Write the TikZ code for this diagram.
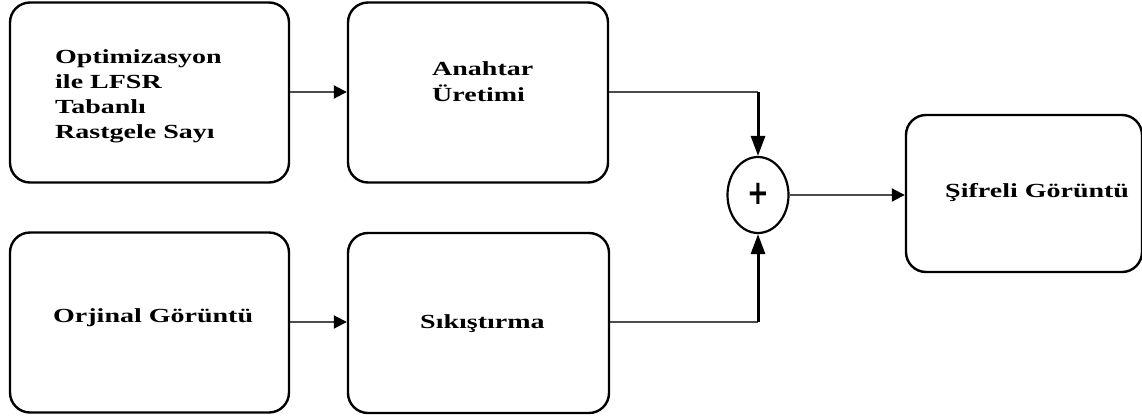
\documentclass[tikz,border=0pt]{standalone}
\usepackage{fontspec}
\setmainfont{Liberation Serif}[FakeStretch=1.4]
\newfontfamily\plusfont{DejaVu Sans}
\usetikzlibrary{arrows.meta,shapes.geometric}
\begin{document}
\begin{tikzpicture}[x=1pt,y=-1pt,
  blockbox/.style={draw=black,line width=2.4pt,rounded corners=20pt,inner sep=0pt},
  lbl/.style={anchor=base west,inner sep=0pt,font=\fontsize{20}{25}\selectfont\bfseries},
  hline/.style={draw=black!70,line width=2pt,-{Triangle[length=13pt,width=13pt,black]}},
  vline/.style={draw=black,line width=3pt,-{Triangle[length=20pt,width=14pt]}}]
\useasboundingbox (0,0) rectangle (1142,418);
\node[blockbox,minimum width=279pt,minimum height=180pt] (b1) at (149.5,92.5) {};
\node[blockbox,minimum width=260pt,minimum height=180pt] (b2) at (478,92.5) {};
\node[blockbox,minimum width=279pt,minimum height=180pt] (b3) at (149.5,322.5) {};
\node[blockbox,minimum width=261pt,minimum height=180pt] (b4) at (478.5,323) {};
\node[blockbox,minimum width=236pt,minimum height=157pt] (b5) at (1024,193.5) {};
\node[draw=black,line width=2.2pt,ellipse,minimum width=61pt,minimum height=76pt,inner sep=0pt] (x) at (758,195) {};
\node[inner sep=0pt,yscale=1.3,font=\plusfont\bfseries\fontsize{26}{26}\selectfont] (plus) at (758,194) {+};
% labels
\node[lbl] (t1) at (55,63) {Optimizasyon};
\node[lbl] (t2) at (55,88) {ile LFSR};
\node[lbl] (t3) at (55,113) {Tabanlı};
\node[lbl] (t4) at (55,138) {Rastgele Sayı};
\node[lbl] (t5) at (432,75) {Anahtar};
\node[lbl] (t6) at (432,101) {Üretimi};
\node[lbl] (t7) at (53,322) {Orjinal Görüntü};
\node[lbl] (t8) at (420,328) {Sıkıştırma};
\node[lbl] (t9) at (945,197) {Şifreli Görüntü};
% connectors
\coordinate (k1) at (758,92);
\coordinate (k2) at (758,322);
\draw[hline] (b1.east |- 0,92) -- (b2.west |- 0,92);
\draw[hline] (b3.east |- 0,322) -- (b4.west |- 0,322);
\draw[draw=black!70,line width=2pt] (b2.east |- k1) -- (k1);
\draw[draw=black!70,line width=2pt] (b4.east |- k2) -- (k2);
\draw[vline] (k1) -- (x.north);
\draw[vline] (k2) -- (x.south);
\draw[hline] (x.east) -- (b5.west |- x.east);
\end{tikzpicture}
\end{document}
